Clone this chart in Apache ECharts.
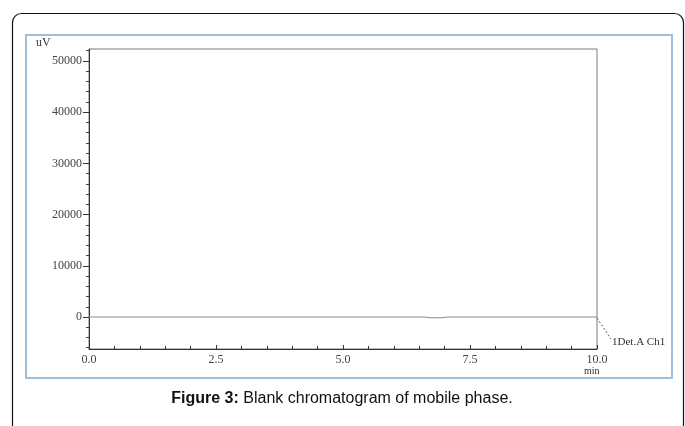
<!DOCTYPE html>
<html>
<head>
<meta charset="utf-8">
<script src="https://cdn.jsdelivr.net/npm/echarts@6/dist/echarts.min.js"></script>
<style>
  html, body { margin: 0; padding: 0; background: #fff; }
  #chart { width: 685px; height: 426px; }
</style>
</head>
<body>
<div id="chart"></div>
<script>
// Detector signal (uV) against retention time (min) for the mobile-phase blank
const timeMin = [0, 6.6, 6.72, 6.95, 7.05, 10];
const signalUV = [0, 0, -150, -150, 0, 0];

const yLabelValues = [0, 10000, 20000, 30000, 40000, 50000];
const yMinorValues = [-6000, -4000, -2000, 2000, 4000, 6000, 8000, 12000, 14000, 16000, 18000,
  22000, 24000, 26000, 28000, 32000, 34000, 36000, 38000, 42000, 44000, 46000, 48000, 52000];
const yRange = [-6250, 52340];
const xRange = [0, 10];
const xStep = 2.5;

const traceName = '1Det.A Ch1';
const yUnit = 'uV';
const xUnit = 'min';
const captionBold = 'Figure 3:';
const captionText = ' Blank chromatogram of mobile phase.';

const chart = echarts.init(document.getElementById('chart'), null, { renderer: 'canvas' });
const serif = '"Liberation Serif", "DejaVu Serif", serif';

const grid = { left: 89, top: 49, width: 508, height: 300 };

chart.setOption({
  animation: false,
  backgroundColor: '#fff',
  grid: {
    left: grid.left, top: grid.top, width: grid.width, height: grid.height,
    show: true, borderColor: '#7a7a7a', borderWidth: 1, backgroundColor: 'transparent'
  },
  xAxis: {
    type: 'value',
    min: xRange[0], max: xRange[1], interval: xStep,
    axisLine: { onZero: false, lineStyle: { color: '#333', width: 1 } },
    axisTick: { show: true, inside: true, length: 4, lineStyle: { color: '#333' } },
    minorTick: { show: true, splitNumber: 5, length: 3, lineStyle: { color: '#333' } },
    splitLine: { show: false },
    axisLabel: {
      color: '#444', fontFamily: serif, fontSize: 12, margin: 5,
      formatter: v => v.toFixed(1)
    }
  },
  yAxis: [
    {
      type: 'value',
      min: yRange[0], max: yRange[1],
      axisLine: { show: true, lineStyle: { color: '#333', width: 1 } },
      axisTick: { show: true, length: 6, customValues: yLabelValues, lineStyle: { color: '#333' } },
      splitLine: { show: false },
      axisLabel: {
        customValues: yLabelValues, color: '#444', fontFamily: serif, fontSize: 12, margin: 7,
        formatter: v => String(v)
      }
    },
    {
      type: 'value',
      position: 'left',
      min: yRange[0], max: yRange[1],
      axisLine: { show: false },
      axisTick: { show: true, length: 3, customValues: yMinorValues, lineStyle: { color: '#444' } },
      splitLine: { show: false },
      axisLabel: { show: false, customValues: yMinorValues }
    }
  ],
  series: [{
    type: 'line',
    name: traceName,
    yAxisIndex: 0,
    data: timeMin.map((t, i) => [t, signalUV[i]]),
    showSymbol: false,
    lineStyle: { color: '#8c8c8c', width: 1.2 },
    z: 3
  }],
  graphic: [
    // outer rounded page frame
    {
      type: 'rect', silent: true, z: -10,
      shape: { x: 12.5, y: 13.5, width: 671, height: 440, r: 9 },
      style: { fill: 'none', stroke: '#111', lineWidth: 1.2 }
    },
    // light blue figure frame
    {
      type: 'rect', silent: true, z: -9,
      shape: { x: 26, y: 35, width: 646, height: 343 },
      style: { fill: 'none', stroke: '#9cc0da', lineWidth: 2 }
    },
    { type: 'text', x: 36, y: 37, style: { text: yUnit, font: '12px ' + serif, fill: '#333' } },
    { type: 'text', x: 584, y: 366, style: { text: xUnit, font: '10px ' + serif, fill: '#333' } },
    // trace label with dashed leader
    {
      type: 'line', silent: true,
      shape: { x1: 597, y1: 318, x2: 611, y2: 339 },
      style: { stroke: '#555', lineWidth: 1, lineDash: [2, 2] }
    },
    { type: 'text', x: 612, y: 337, style: { text: traceName, font: '11px ' + serif, fill: '#333' } },
    // caption
    {
      type: 'text', x: 342, y: 399,
      style: {
        text: '{b|' + captionBold + '}{n|' + captionText + '}',
        align: 'center', verticalAlign: 'middle',
        rich: {
          b: { font: 'bold 16px "Liberation Sans", Arial, sans-serif', fill: '#111' },
          n: { font: '16px "Liberation Sans", Arial, sans-serif', fill: '#111' }
        }
      }
    }
  ]
});
</script>
</body>
</html>
